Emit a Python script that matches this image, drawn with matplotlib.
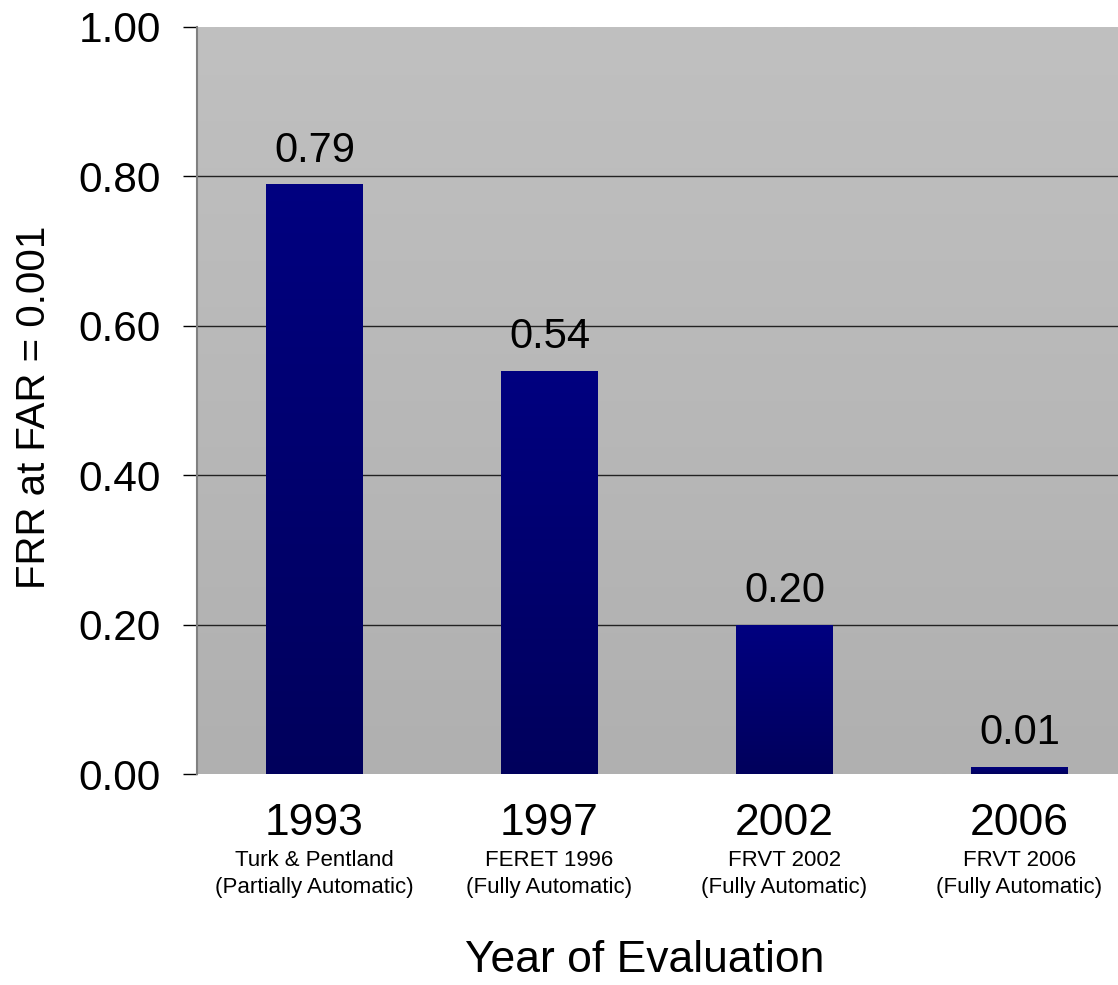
import matplotlib
matplotlib.use("Agg")
import matplotlib.pyplot as plt
import numpy as np
from matplotlib.transforms import blended_transform_factory
from matplotlib.colors import LinearSegmentedColormap

years = ["1993", "1997", "2002", "2006"]
evals = ["Turk & Pentland", "FERET 1996", "FRVT 2002", "FRVT 2006"]
modes = ["(Partially Automatic)", "(Fully Automatic)", "(Fully Automatic)", "(Fully Automatic)"]
frr = [0.79, 0.54, 0.20, 0.01]
yticks = [0.0, 0.2, 0.4, 0.6, 0.8, 1.0]

plt.rcParams['font.family'] = ['Liberation Sans', 'DejaVu Sans']

W, H = 1118, 985
fig = plt.figure(figsize=(W / 100, H / 100), dpi=100)
left, right, top, bottom = 197, 1137, 27, 774
ax = fig.add_axes([left / W, 1 - bottom / H, (right - left) / W, (bottom - top) / H])

x = np.arange(len(years))
ax.set_xlim(-0.5, len(years) - 0.5)
ax.set_ylim(0, 1.0)

# background gradient
bg = LinearSegmentedColormap.from_list("bg", ["#b0b0b0", "#c0c0c0"])
grad = np.linspace(0, 1, 256).reshape(-1, 1)
ax.imshow(grad, cmap=bg, aspect='auto', origin='lower',
          extent=[-0.5, len(years) - 0.5, 0, 1.0], zorder=0)

# gridlines
for t in yticks[1:-1]:
    ax.axhline(t, color="#222222", lw=1.0, zorder=1)

# bars with gradient
bars = ax.bar(x, frr, width=0.41, color="#000080", zorder=2, linewidth=0)
barcm = LinearSegmentedColormap.from_list("bar", ["#00005c", "#000080"])
for b, v in zip(bars, frr):
    im = ax.imshow(grad, cmap=barcm, aspect='auto', origin='lower',
                   extent=[b.get_x(), b.get_x() + b.get_width(), 0, max(v, 0.001)],
                   zorder=3)
    im.set_clip_path(b)

ax.set_xlim(-0.5, len(years) - 0.5)
ax.set_ylim(0, 1.0)

# value labels
for xi, v in zip(x, frr):
    ax.annotate(f"{v:.2f}", (xi, v), xytext=(0, 16), textcoords="offset points",
                ha="center", va="baseline", fontsize=30, color="black", zorder=5)

# spines / ticks
for s in ["top", "right", "bottom"]:
    ax.spines[s].set_visible(False)
ax.spines["left"].set_color("#808080")
ax.spines["left"].set_linewidth(1.5)
ax.set_yticks(yticks)
ax.set_yticklabels([f"{t:.2f}" for t in yticks], fontsize=30.5)
ax.tick_params(axis="y", length=10, width=1.0, color="black", pad=16, direction="out")
ax.set_xticks([])

tr = blended_transform_factory(ax.transData, fig.transFigure)
for xi, yr, ev, md in zip(x, years, evals, modes):
    ax.text(xi, 1 - 835 / H, yr, transform=tr, ha="center", va="baseline", fontsize=32)
    ax.text(xi, 1 - 866 / H, ev, transform=tr, ha="center", va="baseline", fontsize=16)
    ax.text(xi, 1 - 893 / H, md, transform=tr, ha="center", va="baseline", fontsize=16)

fig.text(645 / W, 1 - 972 / H, "Year of Evaluation", ha="center", va="baseline", fontsize=32)
fig.text(34 / W, 1 - 407 / H, "FRR at FAR = 0.001", ha="center", va="center",
         rotation=90, fontsize=29)

fig.savefig("out.png", dpi=100)
